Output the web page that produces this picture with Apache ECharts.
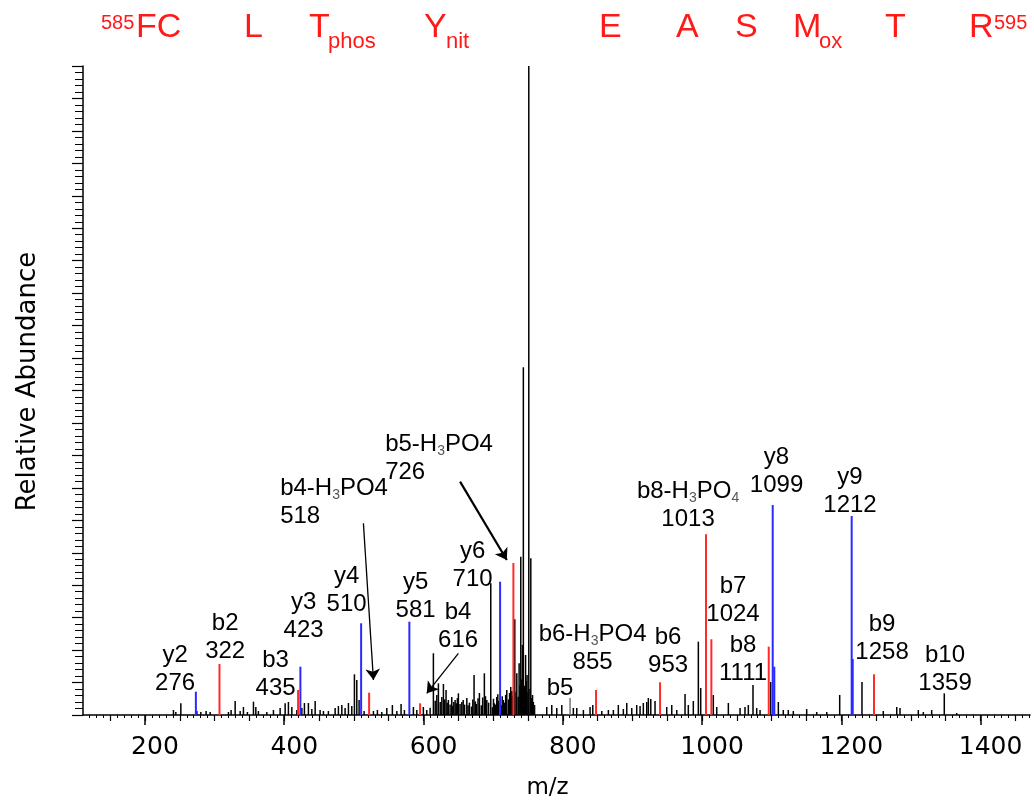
<!DOCTYPE html>
<html>
<head>
<meta charset="utf-8">
<script src="https://cdn.jsdelivr.net/npm/echarts@6/dist/echarts.min.js"></script>
<style>
  html, body { margin: 0; padding: 0; background: #fff; }
  #chart { width: 1034px; height: 806px; }
</style>
</head>
<body>
<div id="chart"></div>
<script>
// m/z axis range and tick values
const mzMin = 111
const mzMax = 1471
const xTickLabels = [200, 400, 600, 800, 1000, 1200, 1400]

// unassigned peaks [m/z, relative abundance]
const blackPeaks = [
  [240.9, 0.77], [244.3, 0.46], [251.5, 1.8], [274.5, 0.62], [280.2, 0.46], [287.8, 0.62], [293.6, 0.46],
  [319.9, 0.46], [323.7, 0.77], [329.5, 2.16], [336.7, 0.62], [341.4, 1.23], [347.1, 0.46], [355.8, 2.05],
  [359.2, 1.23], [362.9, 0.62], [375, 0.46], [384.5, 0.77], [394.1, 1.08], [401.3, 1.8], [406, 2.0],
  [410.9, 1.23], [418.1, 0.77], [425.3, 1.08], [429, 1.85], [434.7, 1.85], [439.6, 0.92], [444.4, 2.16],
  [451.5, 0.77], [456.3, 0.62], [463.4, 0.62], [473.1, 1.08], [477.8, 1.39], [482.7, 1.54], [487.4, 1.08],
  [492.2, 1.85], [497, 1.39], [500.8, 6.27], [504.2, 5.39], [507.5, 2.31], [514.7, 0.62], [528.1, 0.62],
  [533.8, 0.77], [540.1, 0.46], [547.3, 1.08], [555.3, 1.54], [561.7, 0.62], [567.8, 1.7], [572.6, 0.77],
  [585.5, 1.23], [590.4, 0.77], [599.8, 1.23], [604.7, 0.77], [609.5, 1.1], [614.2, 9.51], [616.8, 2.2],
  [619.1, 3.08], [621.4, 4.88], [624, 2.0], [626.3, 2.77], [628.6, 4.78], [630.5, 2.4], [632.4, 3.85],
  [634, 1.9], [635.7, 2.31], [638.2, 1.6], [640.6, 2.77], [641.8, 1.4], [643.5, 2.0], [645.4, 2.31],
  [647, 1.8], [648.6, 2.6], [650.1, 3.34], [652.5, 1.7], [655, 2.0], [657, 2.3], [659, 1.6], [662.2, 2.62],
  [664, 1.5], [666, 1.9], [669, 1.3], [670.8, 2.4], [672.6, 6.16], [674.5, 2.1], [676, 1.7], [678.3, 2.6],
  [680.3, 3.39], [683, 1.5], [685, 2.7], [687.4, 6.43], [689, 2.9], [690.9, 2.31], [693.5, 1.9],
  [696.6, 20.29], [699, 1.2], [700.5, 2.5], [701.8, 1.8], [703.5, 1.6], [705.2, 2.77], [706.7, 3.2],
  [708, 2.2], [711.5, 1.5], [713, 2.9], [714.7, 2.31], [716.5, 1.9], [718, 3.1], [719.6, 3.85], [722, 2.4],
  [723.6, 3.4], [725.3, 4.31], [727, 3.7], [728, 3.0], [731.1, 14.75], [733, 3.6], [734, 6.43], [736, 2.8],
  [737.3, 7.97], [738.6, 4.6], [739.7, 24.39], [741, 5.5], [742, 10.8], [743.4, 53.58], [745, 4.5],
  [746.6, 9.25], [747.7, 5.2], [748.7, 6.16], [750, 3.5], [751.2, 100], [753, 4.0], [754.1, 24.15],
  [755.3, 2.6], [756.6, 3.08], [757.8, 2.0], [759.5, 1.54], [777, 1.23], [784.2, 1.54], [791.4, 1.08],
  [798.6, 1.54], [815.2, 1.08], [820.1, 1.08], [829.6, 0.77], [839.2, 1.23], [843.1, 1.54], [856, 0.62],
  [865.5, 0.77], [872.7, 0.77], [879.8, 1.54], [887, 0.92], [891.9, 1.85], [899.1, 1.08], [906.2, 1.54],
  [911, 1.39], [915.7, 1.85], [920.6, 2.0], [922.9, 2.62], [926.4, 2.47], [932.5, 2.16], [949.3, 1.23],
  [956.5, 1.54], [963.7, 0.77], [975.6, 3.24], [980.3, 1.54], [987.5, 2.16], [994.7, 11.3], [998.1, 4.16],
  [1016.2, 3.08], [1021.1, 1.23], [1037.8, 1.85], [1054.6, 1.08], [1061.7, 1.23], [1066.5, 1.54],
  [1073.2, 4.62], [1078.5, 1.08], [1083.3, 0.77], [1098.6, 5.09], [1109.6, 2.0], [1116.7, 0.77],
  [1123.9, 0.77], [1131.1, 0.62], [1150.3, 0.92], [1164.7, 0.46], [1179.1, 0.46], [1197.7, 3.08],
  [1229.7, 5.09], [1260.3, 0.62], [1279.6, 1.23], [1284.3, 1.08], [1310.6, 0.77], [1317.8, 0.46],
  [1329.8, 0.77], [1347.9, 3.34], [1365.7, 0.31]
]
const grayPeaks = [[810.5, 2.62]]
// b ions (red) and y ions (blue)
const redPeaks = [
  [307, 7.86], [419.9, 3.85], [521.9, 3.44], [595.1, 1.8], [729.1, 23.42], [847.8, 3.85],
  [939.7, 5.04], [1005.7, 27.85], [1013.4, 11.67], [1095.8, 10.53], [1247, 6.27]
]
const bluePeaks = [
  [273.1, 3.59], [423.2, 7.44], [510.4, 14.13], [579.7, 14.38], [710, 20.54],
  [1101.5, 32.36], [1103.8, 7.44], [1214.9, 30.67], [1216.4, 8.63]
]

// ion annotations [m/z, abundance, text]
const ionLabels = [
  [243.3, 7.09, 'y2\n276'], [315.2, 12.02, 'b2\n322'], [387.6, 6.32, 'b3\n435'],
  [427.8, 15.26, 'y3\n423'], [489.6, 19.26, 'y4\n510'], [588.7, 18.26, 'y5\n581'],
  [649.7, 13.71, 'b4\n616'], [670.5, 23.12, 'y6\n710'], [796.1, 4.16, 'b5'],
  [842.8, 10.32, 'b6-H{s|3}PO4\n855'], [951.2, 9.86, 'b6\n953'],
  [979.9, 32.36, 'b8-H{s|3}PO{s|4}\n1013'], [1107, 37.6, 'y8\n1099'], [1212.5, 34.52, 'y9\n1212'],
  [1044.5, 17.72, 'b7\n1024'], [1058.9, 8.63, 'b8\n1111'], [1258.5, 11.87, 'b9\n1258'],
  [1349, 7.09, 'b10\n1359']
]
const ionLabelsLeft = [
  [394.1, 32.75, 'b4-H{s|3}PO4\n518'], [544.9, 39.53, 'b5-H{s|3}PO4\n726']
]
// arrows [from, to]
const arrows = [
  [[513.7, 29.54], [528.1, 5.39]],
  [[652.5, 35.95], [719.6, 23.89]],
  [[650.1, 9.51], [604.7, 3.34]]
]

// peptide sequence header
const seqText = ['585', 'FC', 'L', 'T', 'phos', 'Y', 'nit', 'E', 'A', 'S', 'M', 'ox', 'T', 'R', '595']
const seqKind = ['sup', 'base', 'base', 'base', 'sub', 'base', 'sub', 'base', 'base', 'base', 'base', 'sub', 'base', 'base', 'sup']
const seqLeft = [101, 136, 244, 309, 328, 424, 446, 599, 676, 735, 793, 819, 885, 969, 994]

const font = '"Liberation Sans", Arial, sans-serif'
const axisFont = '"DejaVu Sans", sans-serif'
const minorTicks = []
for (let v = 120; v <= 1470; v += 10) minorTicks.push(v)
const midTicks = []
for (let v = 150; v <= 1450; v += 50) midTicks.push(v)

const chart = echarts.init(document.getElementById('chart'))

function stick(color, width) {
  return (params, api) => {
    const b = api.coord([api.value(0), 0])
    const t = api.coord([api.value(0), api.value(1)])
    return {
      type: 'line',
      shape: { x1: b[0], y1: b[1], x2: t[0], y2: t[1] },
      style: { stroke: color, lineWidth: width }
    }
  }
}

function textItem(list, align) {
  return (params, api) => {
    const p = api.coord([api.value(0), api.value(1)])
    return {
      type: 'text',
      x: p[0],
      y: p[1],
      style: {
        text: list[params.dataIndex][2],
        fontFamily: font,
        fontSize: 24,
        lineHeight: 28,
        fill: '#000',
        align: align,
        verticalAlign: 'middle',
        rich: {
          s: { fontSize: 14, lineHeight: 14, verticalAlign: 'bottom', fill: '#555', fontFamily: font }
        }
      }
    }
  }
}

const hiddenAxis = {
  type: 'value', min: mzMin, max: mzMax, position: 'bottom',
  axisLine: { show: false }, axisLabel: { show: false }, splitLine: { show: false }
}

const option = {
  animation: false,
  backgroundColor: '#fff',
  grid: { left: 83, right: 4, top: 66, bottom: 91 },
  xAxis: [
    {
      type: 'value', min: mzMin, max: mzMax, position: 'bottom',
      name: 'm/z', nameLocation: 'middle', nameGap: 62,
      nameTextStyle: { fontFamily: axisFont, fontSize: 23, color: '#000', padding: [0, 18, 0, 0] },
      axisLine: { lineStyle: { color: '#000', width: 1.5 } },
      axisTick: { customValues: xTickLabels, length: 10, lineStyle: { color: '#000', width: 1.5 } },
      axisLabel: {
        customValues: xTickLabels, fontFamily: axisFont, fontSize: 25, color: '#000',
        margin: 20, padding: [0, 0, 0, 20], formatter: v => String(v)
      },
      splitLine: { show: false }
    },
    Object.assign({}, hiddenAxis, {
      axisTick: { customValues: midTicks, length: 6, lineStyle: { color: '#000', width: 1.2 } }
    }),
    Object.assign({}, hiddenAxis, {
      axisTick: { customValues: minorTicks, length: 3, lineStyle: { color: '#000', width: 1 } }
    })
  ],
  yAxis: {
    type: 'value', min: 0, max: 100, interval: 5,
    name: 'Relative Abundance', nameLocation: 'middle', nameGap: 42,
    nameTextStyle: { fontFamily: axisFont, fontSize: 26, color: '#000', padding: [0, 0, 0, 18] },
    axisLine: { show: true, lineStyle: { color: '#000', width: 1.5 } },
    axisTick: { show: true, length: 11, lineStyle: { color: '#000', width: 1.2 } },
    minorTick: { show: true, splitNumber: 5, length: 8, lineStyle: { color: '#000', width: 1 } },
    axisLabel: { show: false },
    splitLine: { show: false }
  },
  graphic: seqText.map((t, i) => ({
    type: 'text',
    x: seqLeft[i],
    y: seqKind[i] === 'base' ? 28 : seqKind[i] === 'sub' ? 42 : 23,
    style: {
      text: t,
      fontFamily: font,
      fontSize: seqKind[i] === 'base' ? 34 : seqKind[i] === 'sub' ? 22 : 20,
      fill: '#ff1a1a',
      align: 'left',
      verticalAlign: 'middle'
    }
  })),
  series: [
    { type: 'custom', renderItem: stick('#000', 1.5), data: blackPeaks, encode: { x: 0, y: 1 }, clip: true },
    { type: 'custom', renderItem: stick('#777', 1.5), data: grayPeaks, encode: { x: 0, y: 1 } },
    { type: 'custom', renderItem: stick('#ff2a2a', 2), data: redPeaks, encode: { x: 0, y: 1 } },
    { type: 'custom', renderItem: stick('#2a2aff', 2), data: bluePeaks, encode: { x: 0, y: 1 } },
    {
      type: 'custom', renderItem: textItem(ionLabels, 'center'),
      data: ionLabels.map(d => [d[0], d[1]]), encode: { x: 0, y: 1 },
      markLine: {
        silent: true,
        symbol: ['none', 'arrow'],
        symbolSize: 11,
        label: { show: false },
        lineStyle: { color: '#000', width: 1.3, type: 'solid' },
        data: arrows.map((a, i) => [
          { coord: a[0], lineStyle: { width: i === 1 ? 2.2 : 1.3 } },
          { coord: a[1] }
        ])
      }
    },
    {
      type: 'custom', renderItem: textItem(ionLabelsLeft, 'left'),
      data: ionLabelsLeft.map(d => [d[0], d[1]]), encode: { x: 0, y: 1 }
    }
  ]
}

chart.setOption(option)
</script>
</body>
</html>
